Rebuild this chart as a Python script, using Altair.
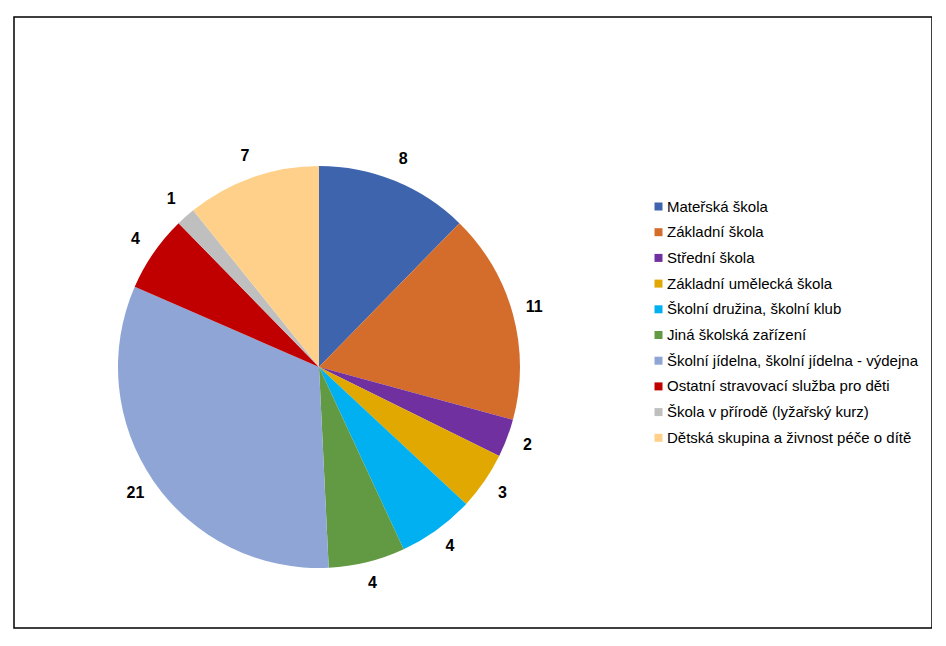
import altair as alt
import pandas as pd

categories = [
    "Mateřská škola",
    "Základní škola",
    "Střední škola",
    "Základní umělecká škola",
    "Školní družina, školní klub",
    "Jiná školská zařízení",
    "Školní jídelna, školní jídelna - výdejna",
    "Ostatní stravovací služba pro děti",
    "Škola v přírodě (lyžařský kurz)",
    "Dětská skupina a živnost péče o dítě",
]
values = [8, 11, 2, 3, 4, 4, 21, 4, 1, 7]
colors = ["#3D64AD", "#D46D2B", "#7030A0", "#E0A800", "#00B0F0",
          "#629A43", "#8EA5D5", "#C00000", "#BFBFBF", "#FFD08A"]

df = pd.DataFrame({"cat": categories, "value": values, "order": list(range(len(values)))})

CX, CY, R = 311, 359, 201

base = alt.Chart(df).encode(
    theta=alt.Theta("value:Q", stack=True),
    order=alt.Order("order:Q"),
)

pie = base.mark_arc(outerRadius=R).encode(
    x=alt.value(CX), y=alt.value(CY),
    color=alt.Color(
        "cat:N",
        scale=alt.Scale(domain=categories, range=colors),
        sort=categories,
        legend=alt.Legend(
            title=None, orient="none", legendX=643, legendY=191,
            symbolType="square", symbolSize=64, symbolStrokeWidth=0,
            labelFont="Liberation Sans", labelFontSize=15, labelColor="#000000",
            rowPadding=9.7, labelOffset=1, labelLimit=400,
        ),
    ),
)

labels = base.mark_text(
    radius=223, font="Liberation Sans", fontSize=16, fontWeight="bold",
    color="#000000", align="center", baseline="middle", dy=-1,
).encode(
    x=alt.value(CX), y=alt.value(CY),
    text=alt.Text("value:Q"),
)

border = alt.Chart(pd.DataFrame({"a": [0]})).mark_rect(
    fill=None, stroke="#000000", strokeWidth=1.5
).encode(
    x=alt.value(6), x2=alt.value(924), y=alt.value(9), y2=alt.value(620)
)

chart = alt.layer(border, pie, labels).properties(
    width=924, height=624, padding=0, autosize=alt.AutoSizeParams(type="none"),
).configure_view(stroke="transparent", strokeWidth=0)

chart.save("out.html", embed_options={"renderer": "svg", "actions": False})
